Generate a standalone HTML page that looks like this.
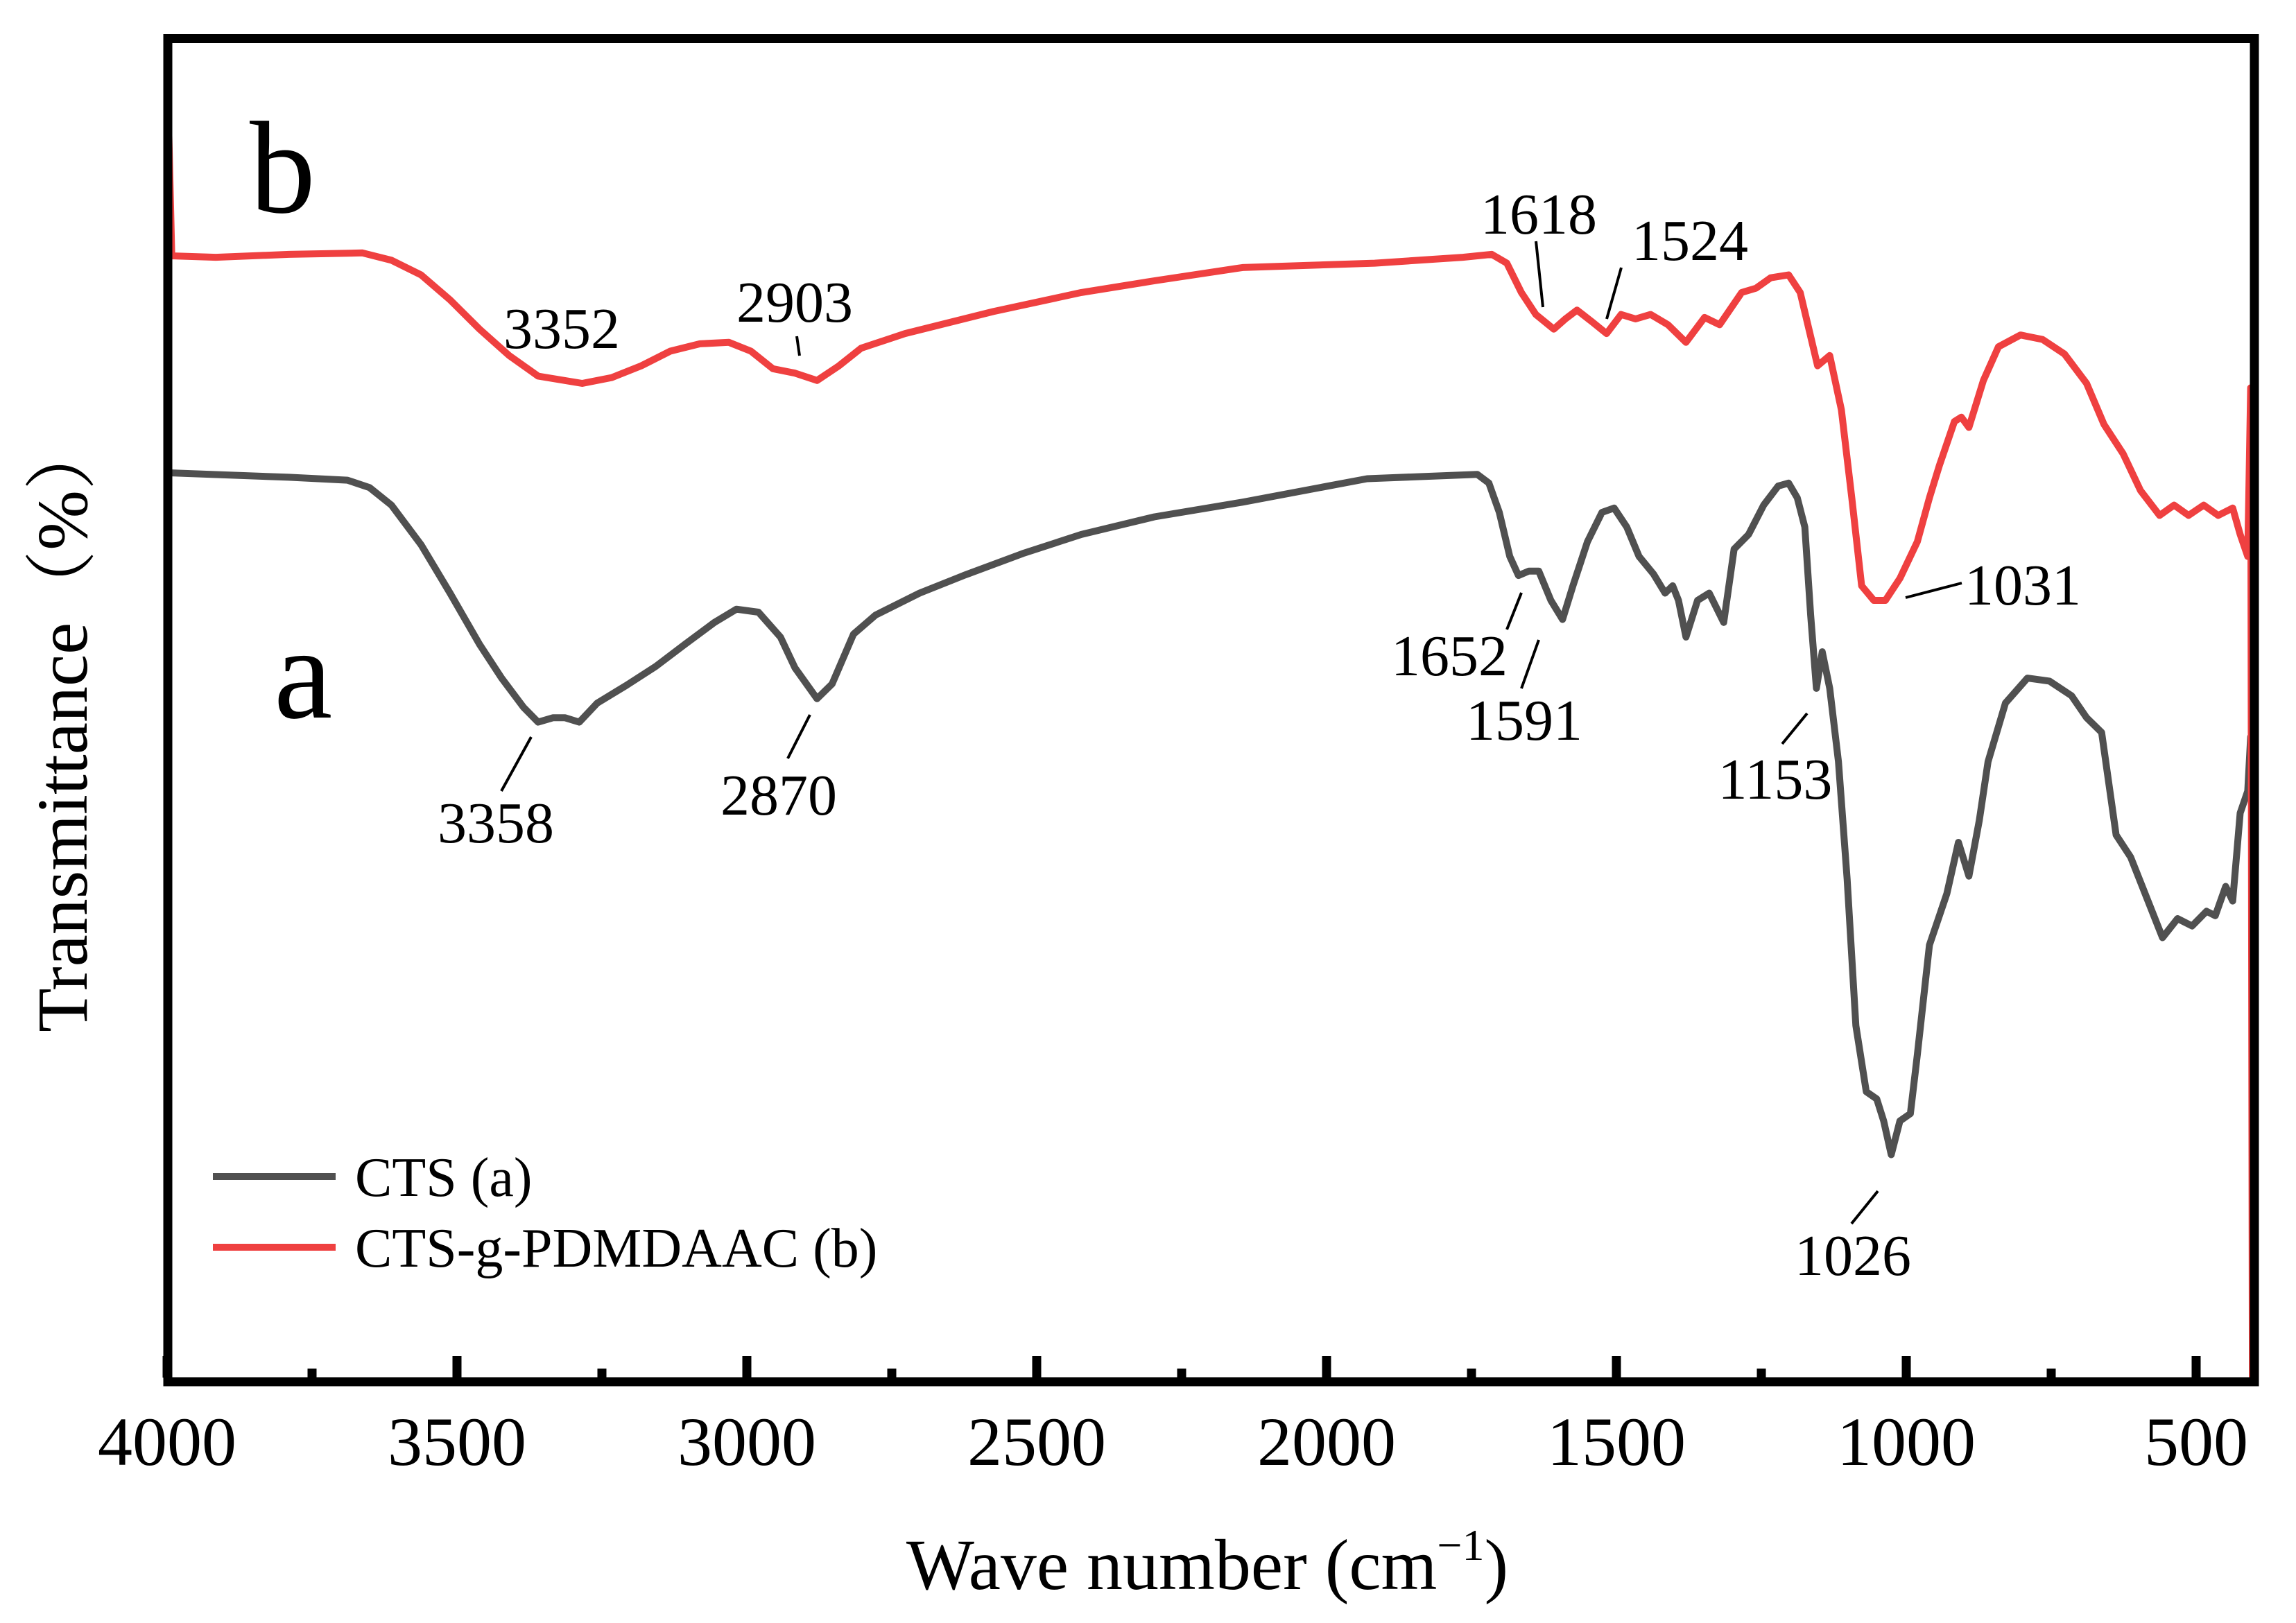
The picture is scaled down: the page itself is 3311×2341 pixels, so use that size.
<!DOCTYPE html>
<html><head><meta charset="utf-8"><style>
html,body{margin:0;padding:0;background:#fff;}
svg{display:block;font-family:"Liberation Serif","Noto Serif CJK SC",serif;}
</style></head><body>
<svg id="chart" width="3311" height="2341" viewBox="0 0 3311 2341" xmlns="http://www.w3.org/2000/svg">
<g id="plot"></g>
<rect x="242" y="55.5" width="3009" height="1937.5" fill="none" stroke="#000" stroke-width="13"/>
<g id="ticks"></g>
<text x="1741" y="2292" font-size="104" text-anchor="middle">Wave number (cm<tspan dy="-42" font-size="64">−1</tspan><tspan dy="42">)</tspan></text>
<text transform="translate(125,1046) rotate(-90)" font-size="104" text-anchor="middle">Transmittance（%）</text>
<text x="360" y="306" font-size="190">b</text>
<text x="395" y="1035" font-size="190">a</text>
<g id="annots" font-size="84" text-anchor="middle"></g>
<g>
<line x1="307" y1="1697" x2="484" y2="1697" stroke="#505050" stroke-width="10"/>
<text x="512" y="1725" font-size="80">CTS (a)</text>
<line x1="307" y1="1799" x2="484" y2="1799" stroke="#ef4040" stroke-width="10"/>
<text x="512" y="1827" font-size="80">CTS-g-PDMDAAC (b)</text>
</g>
</svg>
<script>
const redWave=[4000,3997,3992,3916,3790,3663,3613,3562,3512,3461,3410,3360,3284,3233,3182,3132,3081,3031,2993,2955,2917,2879,2841,2803,2727,2575,2423,2297,2145,1917,1765,1715,1689,1664,1639,1608,1588,1568,1542,1517,1492,1467,1441,1411,1380,1348,1322,1284,1259,1234,1203,1183,1165,1153,1132,1112,1094,1077,1056,1036,1011,981,960,943,917,905,892,867,841,803,765,727,689,659,626,596,563,538,513,487,462,437,424,411,406,403];
const redT=[0,850,768,767,769,770,765,755,738,718,700,686,681,685,693,703,708,709,703,691,688,683,693,705,715,730,743,751,760,763,767,769,763,743,728,718,725,731,723,715,728,725,728,721,709,726,721,743,746,753,755,743,713,693,700,663,603,543,533,533,548,573,603,625,655,658,651,683,706,714,711,701,681,653,633,608,591,598,591,598,591,596,578,563,678,0];
const grayWave=[3997,3790,3689,3651,3613,3562,3512,3461,3423,3385,3360,3334,3314,3289,3258,3208,3157,3107,3056,3018,2980,2942,2917,2879,2853,2816,2778,2702,2626,2524,2423,2297,2145,1930,1740,1720,1702,1684,1669,1651,1634,1613,1593,1575,1550,1525,1504,1482,1461,1436,1416,1403,1393,1380,1360,1340,1315,1297,1272,1246,1221,1203,1188,1175,1165,1155,1145,1132,1117,1102,1087,1069,1051,1039,1026,1011,993,981,960,930,910,892,874,859,829,791,753,715,689,663,638,613,588,558,532,507,482,467,449,437,424,411,406];
const grayT=[620,617,615,610,598,571,538,503,480,460,450,453,453,450,463,475,488,503,518,527,525,508,487,466,476,510,523,538,550,565,578,590,600,616,619,613,593,563,550,553,553,533,520,543,573,593,596,583,563,551,538,543,533,508,533,538,518,568,578,598,611,613,603,583,523,473,498,473,423,343,243,198,193,178,155,178,183,223,298,333,368,345,383,423,463,480,478,468,453,443,373,358,333,303,316,311,321,318,338,328,388,403,440];
const xTicks=[4000,3500,3000,2500,2000,1500,1000,500];
const xMinor=[3750,3250,2750,2250,1750,1250,750];
const peakLabels=["3352","2903","1618","1524","3358","2870","1652","1591","1153","1031","1026"];
const NS="http://www.w3.org/2000/svg";
function xs(w){return 241+(4000-w)*0.836;}
function ys(t){return 56+(916-t)*2.115;}
function path(ws,ts,color,name){
  let d="";
  for(let i=0;i<ws.length;i++){d+=(i?"L":"M")+xs(ws[i]).toFixed(1)+","+ys(ts[i]).toFixed(1);}
  const p=document.createElementNS(NS,"path");
  p.setAttribute("d",d);p.setAttribute("fill","none");p.setAttribute("stroke",color);
  p.setAttribute("stroke-width","10");p.setAttribute("stroke-linejoin","round");p.setAttribute("stroke-linecap","round");
  
  
  document.getElementById("plot").appendChild(p);
}
path(grayWave,grayT,"#505050","series-cts");
path(redWave,redT,"#ef4040","series-cts-g-pdmdaac");
const tg=document.getElementById("ticks");
xTicks.forEach(v=>{
  const l=document.createElementNS(NS,"line");
  l.setAttribute("x1",xs(v));l.setAttribute("x2",xs(v));l.setAttribute("y1",1987);l.setAttribute("y2",1956);
  l.setAttribute("stroke","#000");l.setAttribute("stroke-width","13");
  
  
  tg.appendChild(l);
  const t=document.createElementNS(NS,"text");
  t.setAttribute("x",xs(v));t.setAttribute("y",2113);t.setAttribute("font-size","100");t.setAttribute("text-anchor","middle");
  t.textContent=v;
  
  
  tg.appendChild(t);
});
xMinor.forEach(v=>{
  const l=document.createElementNS(NS,"line");
  l.setAttribute("x1",xs(v));l.setAttribute("x2",xs(v));l.setAttribute("y1",1987);l.setAttribute("y2",1974);
  l.setAttribute("stroke","#000");l.setAttribute("stroke-width","13");
  
  
  tg.appendChild(l);
});
const annPos=[[810,502,null],[1146,464,[1149,485,1153,513]],[2219,337,[2215,348,2225,443]],[2437,375,[2338,386,2317,460]],[715,1215,[723,1141,766,1063]],[1123,1175,[1136,1094,1168,1031]],[2090,974,[2173,908,2194,855]],[2198,1067,[2194,993,2219,923]],[2560,1152,[2570,1073,2606,1029]],[2917,872,[2748,862,2829,841]],[2672,1839,[2670,1765,2708,1718]]];
const ag=document.getElementById("annots");
peakLabels.forEach((lab,i)=>{
  const a=annPos[i];
  const t=document.createElementNS(NS,"text");
  t.setAttribute("x",a[0]);t.setAttribute("y",a[1]);t.textContent=lab;
  
  
  ag.appendChild(t);
  if(a[2]){
    const l=document.createElementNS(NS,"line");
    l.setAttribute("x1",a[2][0]);l.setAttribute("y1",a[2][1]);l.setAttribute("x2",a[2][2]);l.setAttribute("y2",a[2][3]);
    l.setAttribute("stroke","#000");l.setAttribute("stroke-width","4");
    
    
    ag.appendChild(l);
  }
});
</script>
</body></html>
